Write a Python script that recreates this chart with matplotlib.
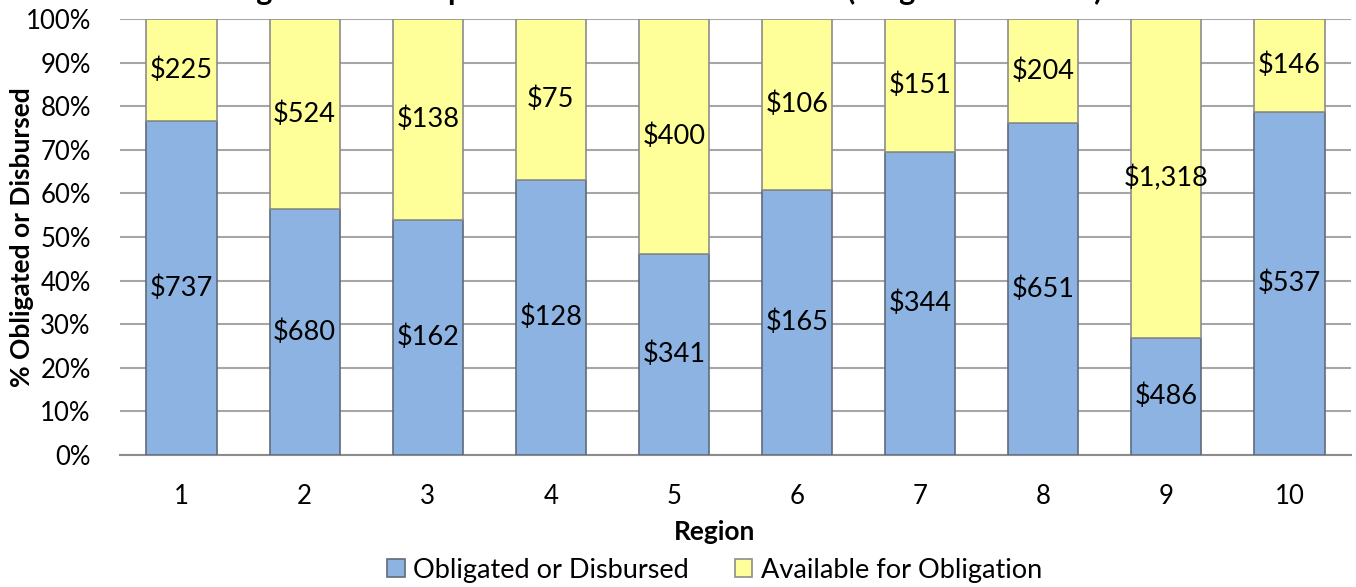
import matplotlib.pyplot as plt
import numpy as np

plt.rcParams['font.family'] = ['Lato', 'DejaVu Sans']

regions = ['1', '2', '3', '4', '5', '6', '7', '8', '9', '10']
obligated = [737, 680, 162, 128, 341, 165, 344, 651, 486, 537]
available = [225, 524, 138, 75, 400, 106, 151, 204, 1318, 146]
pct_ticks = [0, 10, 20, 30, 40, 50, 60, 70, 80, 90, 100]

titre = "Obligation of Competitive Awards in Each Area (Original Amounts)"

obl = np.array(obligated, dtype=float)
dispo = np.array(available, dtype=float)
total = obl + dispo
pct_obl = obl / total * 100
pct_dispo = dispo / total * 100

fig = plt.figure(figsize=(13.56, 5.87), dpi=100)
ax = fig.add_axes([0.0885, 0.2249, 0.9078, 0.7427])

x = np.arange(len(regions))
largeur = 0.57
bleu = '#8DB3E2'
jaune = '#FFFF99'

ax.bar(x, pct_obl, largeur, color=bleu, edgecolor='#5F6B7A', linewidth=1.2,
       label='Obligated or Disbursed', zorder=3)
ax.bar(x, pct_dispo, largeur, bottom=pct_obl, color=jaune, edgecolor='#8C8C8C',
       linewidth=1.2, label='Available for Obligation', zorder=3)

for i in range(len(regions)):
    ax.text(x[i], pct_obl[i] / 2, f"${obligated[i]:,}", ha='center', va='center',
            fontsize=19.5, zorder=4)
    ax.text(x[i], pct_obl[i] + pct_dispo[i] / 2, f"${available[i]:,}", ha='center',
            va='center', fontsize=19.5, zorder=4)

ax.set_xlim(-0.5, 9.5)
ax.set_ylim(0, 100)
ax.set_yticks(pct_ticks)
ax.set_yticklabels([f"{t}%" for t in pct_ticks])
ax.set_xticks(x)
ax.set_xticklabels(regions)
ax.tick_params(axis='both', length=0, labelsize=18.5)
ax.tick_params(axis='y', pad=21)
ax.tick_params(axis='x', pad=21)
ax.yaxis.grid(True, color='#A6A6A6', linewidth=1.5, zorder=0)
ax.set_axisbelow(True)
for s in ['left', 'right', 'top']:
    ax.spines[s].set_visible(False)
ax.spines['bottom'].set_color('#8C8C8C')
ax.spines['bottom'].set_linewidth(1.5)

ax.set_xlabel('Region', fontsize=19, fontweight='bold')
ax.xaxis.set_label_coords(0.483, -0.149)
ax.set_ylabel('% Obligated or Disbursed', fontsize=19, fontweight='bold')
ax.yaxis.set_label_coords(-0.0699, 0.5)

fig.text(0.48, 1.0, titre, ha='center', va='baseline', fontsize=22, fontweight='bold')

ax.legend(loc='center', bbox_to_anchor=(0.483, -0.264), ncol=2, frameon=False,
          fontsize=19.5, handlelength=0.65, handleheight=0.65, handletextpad=0.3,
          columnspacing=1.7, borderaxespad=0)

fig.savefig('out.png', dpi=100)
